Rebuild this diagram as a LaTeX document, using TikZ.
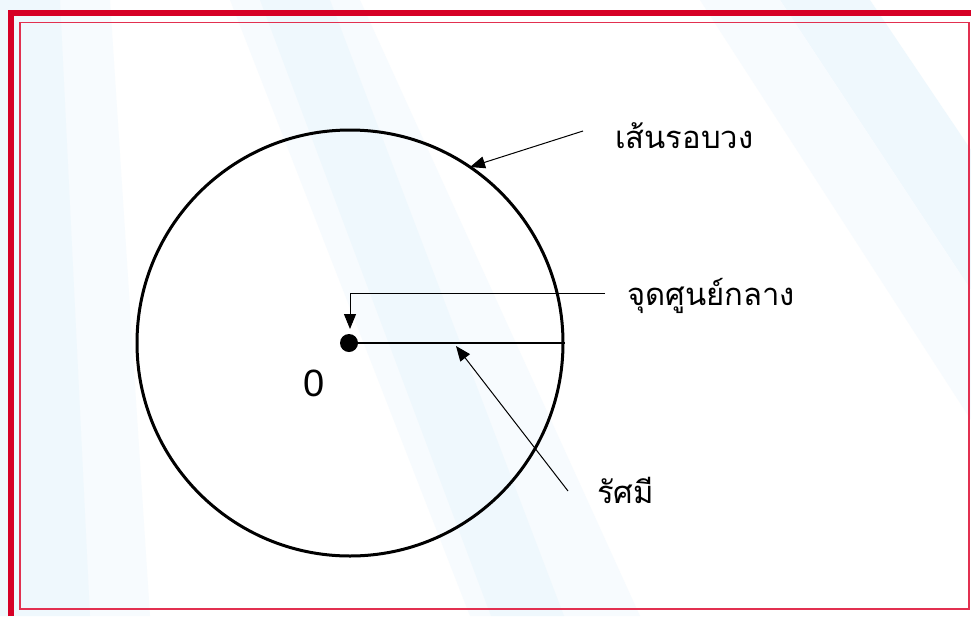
\documentclass[tikz,border=0pt]{standalone}
\usepackage{fontspec}
\setmainfont{Liberation Sans}
\newfontfamily\thaifont[Script=Thai]{Loma}
\usetikzlibrary{arrows.meta}
\definecolor{bordred}{RGB}{214,0,38}
\definecolor{innred}{RGB}{226,48,80}
\definecolor{bandblue}{RGB}{239,248,253}
\definecolor{bandpale}{RGB}{247,251,254}
\begin{document}
\begin{tikzpicture}[x=1pt,y=-1pt,
  lbl/.style={anchor=west, inner sep=0pt, font=\fontsize{31}{35}\selectfont\thaifont},
  ptr/.style={line width=1pt, -{Triangle[length=15pt,width=12pt]}},
  thick line/.style={line width=3pt}]
\useasboundingbox (0,0) rectangle (971,616);
\fill[white] (0,0) rectangle (971,616);
% faint background bands
\fill[bandpale] (0,0) -- (110,0) -- (150,616) -- (0,616) -- cycle;
\fill[bandblue] (0,0) -- (60,0) -- (90,616) -- (0,616) -- cycle;
\fill[bandpale] (230,0) -- (360,0) -- (640,616) -- (470,616) -- cycle;
\fill[bandblue] (260,0) -- (330,0) -- (564,616) -- (491,616) -- cycle;
\fill[bandblue] (780,0) -- (870,0) -- (971,150) -- (971,290) -- cycle;
\fill[bandpale] (700,0) -- (780,0) -- (971,290) -- (971,420) -- cycle;
% borders
\draw[bordred, line width=6pt] (11,616) -- (11,13) -- (971,13);
\draw[innred, line width=1.5pt] (20,22.5) rectangle (969,609);
% circle, centre, radius
\node[circle, draw, thick line, minimum size=426pt, inner sep=0pt] (circ) at (350,343) {};
\node[circle, fill, minimum size=18pt, inner sep=0pt] (ctr) at (349,343) {};
\draw[line width=2.8pt] (ctr.center) -- (circ.east);
\node[anchor=center, inner sep=0pt, font=\fontsize{38}{42}\selectfont] (zero) at (314,383) {0};
% labels
\node[lbl] (lcirc) at (615,136) {เส้นรอบวง};
\node[lbl] (lctr) at (627,296) {จุดศูนย์กลาง};
\node[lbl] (lrad) at (597,490) {รัศมี};
% pointers
\coordinate (p1s) at (583,131);
\coordinate (p1e) at (470,167);
\draw[ptr] (p1s) -- (p1e);
\coordinate (p2s) at (605,293);
\coordinate (p2m) at (350,293);
\coordinate (p2e) at (350,329);
\draw[ptr] (p2s) -- (p2m) -- (p2e);
\coordinate (p3s) at (568,491);
\coordinate (p3e) at (456,346);
\draw[ptr] (p3s) -- (p3e);
\end{tikzpicture}
\end{document}
